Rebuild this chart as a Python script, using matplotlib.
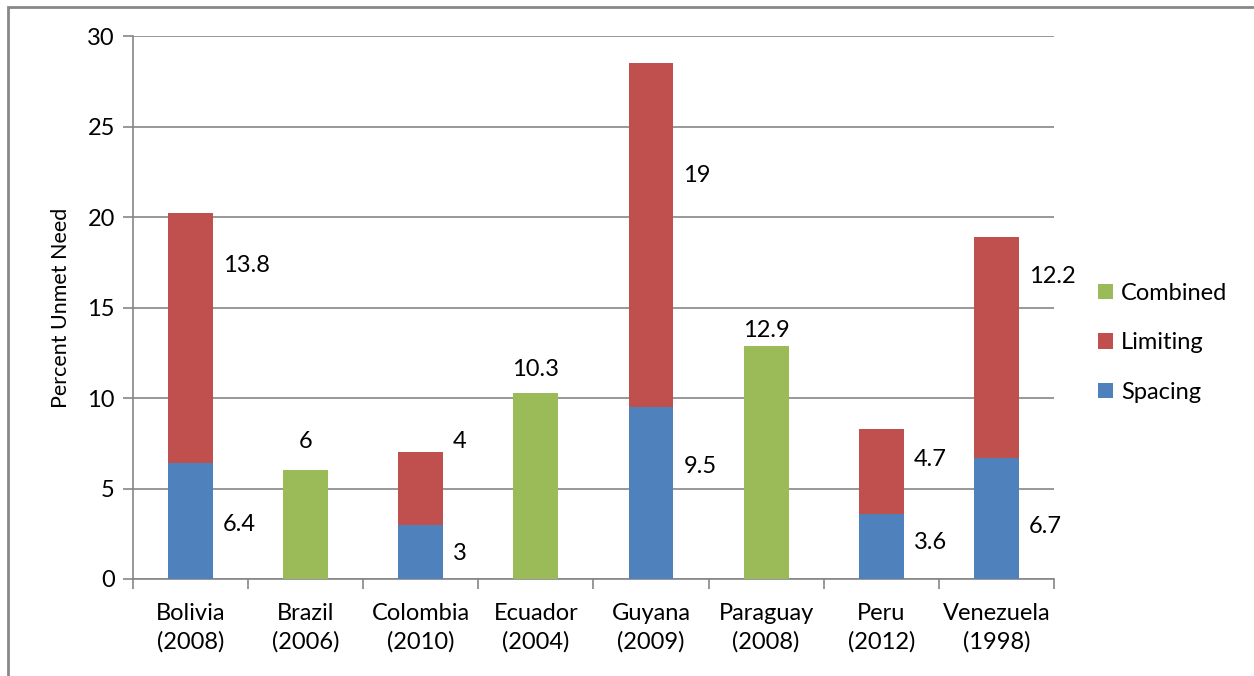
import numpy as np
import matplotlib.pyplot as plt
from matplotlib.patches import Rectangle

countries = ['Bolivia\n(2008)', 'Brazil\n(2006)', 'Colombia\n(2010)', 'Ecuador\n(2004)',
             'Guyana\n(2009)', 'Paraguay\n(2008)', 'Peru\n(2012)', 'Venezuela\n(1998)']
spacing = [6.4, 0, 3, 0, 9.5, 0, 3.6, 6.7]
limiting = [13.8, 0, 4, 0, 19, 0, 4.7, 12.2]
combined = [0, 6, 0, 10.3, 0, 12.9, 0, 0]

# where the value labels sit (data units)
spacing_lab_y = [3.0, 0, 1.4, 0, 6.2, 0, 2.0, 2.9]
limiting_lab_y = [17.3, 0, 7.6, 0, 22.3, 0, 6.6, 16.7]
combined_lab_y = [0, 7.6, 0, 11.6, 0, 13.75, 0, 0]

c_spacing = '#4F81BD'
c_limiting = '#C0504D'
c_combined = '#9BBB59'
grey = '#868686'
fs = 17

plt.rcParams['font.family'] = ['Lato', 'DejaVu Sans']

fig = plt.figure(figsize=(12.54, 6.76), dpi=100)
ax = fig.add_axes([0.106, 0.1435, 0.7345, 0.8032])

x = np.arange(len(countries))
w = 0.39
ax.bar(x, spacing, w, color=c_spacing, label='Spacing', zorder=3)
ax.bar(x, limiting, w, bottom=spacing, color=c_limiting, label='Limiting', zorder=3)
ax.bar(x, combined, w, color=c_combined, label='Combined', zorder=3)

for i in range(len(x)):
    if spacing[i]:
        ax.text(x[i] + w / 2 + 0.085, spacing_lab_y[i], f'{spacing[i]:g}',
                ha='left', va='center', fontsize=fs)
    if limiting[i]:
        ax.text(x[i] + w / 2 + 0.085, limiting_lab_y[i], f'{limiting[i]:g}',
                ha='left', va='center', fontsize=fs)
    if combined[i]:
        ax.text(x[i], combined_lab_y[i], f'{combined[i]:g}',
                ha='center', va='center', fontsize=fs)

ax.set_xlim(-0.5, len(x) - 0.5)
ax.set_ylim(0, 30)
ax.set_yticks(range(0, 31, 5))
ax.yaxis.grid(True, color=grey, linewidth=1.2, zorder=0)
ax.set_ylabel('Percent Unmet Need', fontsize=15.5, labelpad=12)

ax.set_xticks(x)
ax.set_xticklabels(countries, fontsize=fs, linespacing=1.45)
ax.set_xticks(np.arange(-0.5, len(x), 1), minor=True)
ax.tick_params(axis='x', which='major', length=0, pad=17)
ax.tick_params(axis='x', which='minor', length=7, width=1.2, color=grey)
ax.tick_params(axis='y', length=7, width=1.2, color=grey, labelsize=fs, pad=6)

for s in ['top', 'right']:
    ax.spines[s].set_visible(False)
for s in ['left', 'bottom']:
    ax.spines[s].set_color(grey)
    ax.spines[s].set_linewidth(1.2)

handles, labels = ax.get_legend_handles_labels()
ax.legend(handles[::-1], labels[::-1], loc='center left', bbox_to_anchor=(1.035, 0.435),
          frameon=False, fontsize=fs, handlelength=0.62, handleheight=0.62,
          handletextpad=0.35, labelspacing=1.2, borderpad=0)

# chart frame
fig.add_artist(Rectangle((0.0064, -0.2), 1.5, 1.1896, transform=fig.transFigure,
                         fill=False, edgecolor='#888888', linewidth=2))

fig.savefig('out.png', dpi=100)
